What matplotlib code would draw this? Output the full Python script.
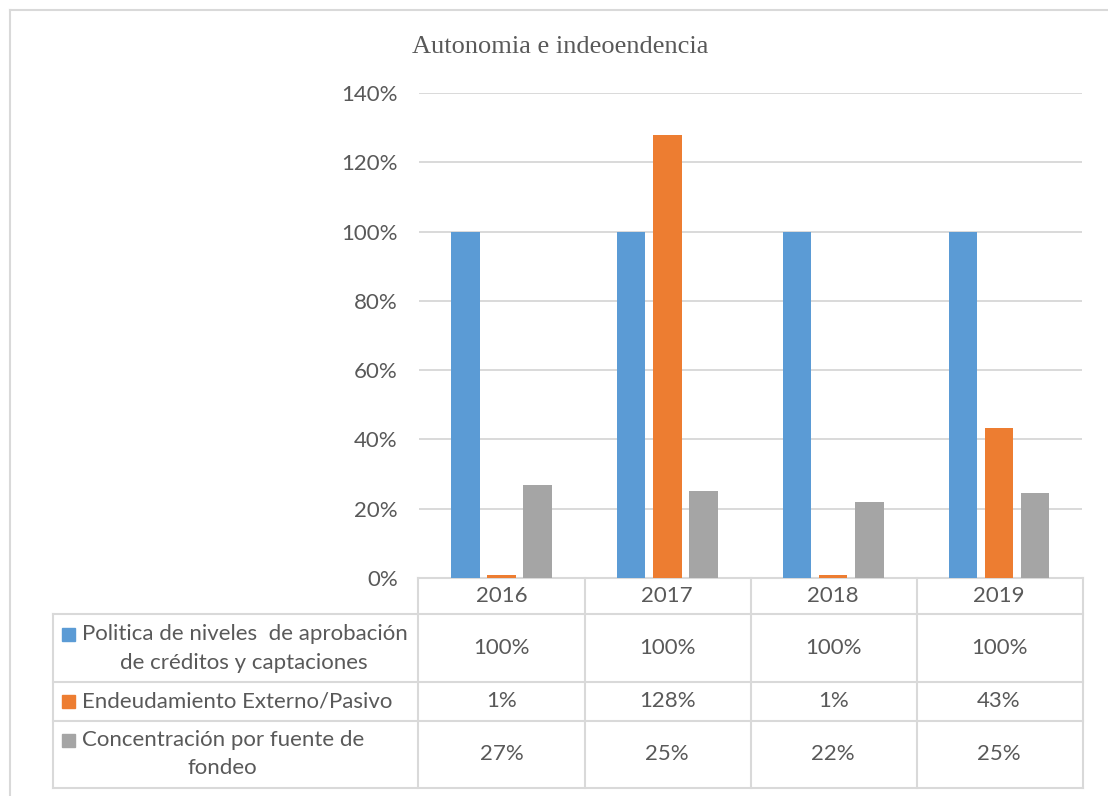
import matplotlib
matplotlib.use("Agg")
import matplotlib.pyplot as plt
import matplotlib.transforms as mtransforms
from matplotlib.patches import Rectangle
from matplotlib.lines import Line2D

# ---- data ----
years = ["2016", "2017", "2018", "2019"]
politica = [1.00, 1.00, 1.00, 1.00]
endeudamiento = [0.01, 1.28, 0.01, 0.432]
concentracion = [0.268, 0.25, 0.219, 0.246]
table_politica = ["100%", "100%", "100%", "100%"]
table_endeud = ["1%", "128%", "1%", "43%"]
table_concen = ["27%", "25%", "22%", "25%"]
title = "Autonomia e indeoendencia"
yticks = [0, 0.2, 0.4, 0.6, 0.8, 1.0, 1.2, 1.4]

C_BLUE = "#5B9BD5"
C_ORANGE = "#ED7D31"
C_GRAY = "#A5A5A5"
TXT = "#595959"
GRID = "#D9D9D9"
FONT = "Lato"
FS = 16

W, H = 1108, 796
fig = plt.figure(figsize=(W / 100, H / 100), dpi=100)
fig.patch.set_facecolor("white")

# overlay axes in pixel coordinates
ov = fig.add_axes([0, 0, 1, 1])
ov.set_xlim(0, W)
ov.set_ylim(H, 0)
ov.axis("off")

def px(x0, x1, y0, y1):
    return [x0 / W, 1 - y1 / H, (x1 - x0) / W, (y1 - y0) / H]

ax = fig.add_axes(px(418.5, 1082, 93, 578))
ax.set_xlim(-0.5, 3.5)
ax.set_ylim(0, 1.4)

x = list(range(len(years)))
bw = 0.172
step = 0.218
ax.bar([i - step for i in x], politica, bw, color=C_BLUE, zorder=3)
ax.bar(x, endeudamiento, bw, color=C_ORANGE, zorder=3)
ax.bar([i + step for i in x], concentracion, bw, color=C_GRAY, zorder=3)

ax.set_yticks(yticks)
ax.set_yticklabels([f"{int(round(v * 100))}%" for v in yticks],
                   fontsize=FS, color=TXT, fontfamily=FONT)
ax.tick_params(axis="y", length=0, pad=15)
ax.set_xticks([])
ax.grid(axis="y", color=GRID, linewidth=1.4, zorder=0)
for s in ["top", "right", "left", "bottom"]:
    ax.spines[s].set_visible(False)
ax.set_facecolor("none")

# title
ov.text(560, 47, title, ha="center", va="center", fontsize=19,
        fontfamily="Liberation Serif", color=TXT)

# chart border
ov.add_line(Line2D([10, 10], [10, 796], color=GRID, lw=1.5))
ov.add_line(Line2D([10, 1108], [10, 10], color=GRID, lw=1.5))

# table grid
TC = "#D9D9D9"
lw = 1.5
for yy, x0 in [(578, 418), (614, 53), (682, 53), (721, 53), (788, 53)]:
    ov.add_line(Line2D([x0, 1083], [yy, yy], color=TC, lw=lw))
ov.add_line(Line2D([53, 53], [614, 788], color=TC, lw=lw))
for xx in [418, 585, 751, 917, 1083]:
    ov.add_line(Line2D([xx, xx], [578, 788], color=TC, lw=lw))

# table values using category scale for x
bt = mtransforms.blended_transform_factory(ax.transData, ov.transData)
rows = [(years, 596), (table_politica, 648), (table_endeud, 701), (table_concen, 754)]
for vals, yy in rows:
    for i, v in enumerate(vals):
        ov.text(i, yy, v, transform=bt, ha="center", va="center",
                fontsize=FS, color=TXT, fontfamily=FONT)

# row labels
def key(y, c):
    ov.add_patch(Rectangle((62, y - 6.5), 13, 13, color=c))

key(634, C_BLUE)
ov.text(82, 634, "Politica de niveles  de aprobación", ha="left", va="center",
        fontsize=FS, color=TXT, fontfamily=FONT)
ov.text(244, 663, "de créditos y captaciones", ha="center", va="center",
        fontsize=FS, color=TXT, fontfamily=FONT)
key(701, C_ORANGE)
ov.text(82, 701, "Endeudamiento Externo/Pasivo", ha="left", va="center",
        fontsize=FS, color=TXT, fontfamily=FONT)
key(740, C_GRAY)
ov.text(82, 740, "Concentración por fuente de", ha="left", va="center",
        fontsize=FS, color=TXT, fontfamily=FONT)
ov.text(222, 768, "fondeo", ha="center", va="center",
        fontsize=FS, color=TXT, fontfamily=FONT)

fig.savefig("out.png", dpi=100)
